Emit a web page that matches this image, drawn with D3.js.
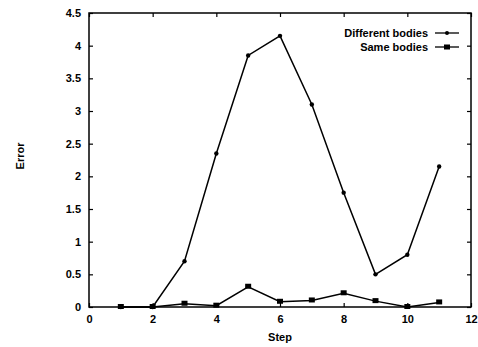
<!DOCTYPE html>
<html>
<head>
<meta charset="utf-8">
<script src="https://cdn.jsdelivr.net/npm/d3@7"></script>
<style>
  body { margin: 0; background: #fff; }
  text { font-family: "Liberation Sans", Arial, sans-serif; font-weight: bold; fill: #000; }
</style>
</head>
<body>
<div id="chart"></div>
<script>
const steps = [1, 2, 3, 4, 5, 6, 7, 8, 9, 10, 11];
const differentBodies = [0, 0, 0.7, 2.35, 3.85, 4.15, 3.1, 1.75, 0.5, 0.8, 2.15];
const sameBodies = [0, 0, 0.05, 0.02, 0.31, 0.08, 0.1, 0.21, 0.09, 0, 0.07];
const xTicks = [0, 2, 4, 6, 8, 10, 12];
const yTicks = [0, 0.5, 1, 1.5, 2, 2.5, 3, 3.5, 4, 4.5];

const width = 478, height = 347;
const margin = { top: 13, right: 7, bottom: 40, left: 89 };
const w = width - margin.left - margin.right;
const h = height - margin.top - margin.bottom;

const svg = d3.select('#chart').append('svg')
  .attr('width', width)
  .attr('height', height);

const g = svg.append('g')
  .attr('transform', `translate(${margin.left},${margin.top})`);

const x = d3.scaleLinear().domain([0, 12]).range([0, w]);
const y = d3.scaleLinear().domain([0, 4.5]).range([h, 0]);

// frame
g.append('rect')
  .attr('width', w).attr('height', h)
  .attr('fill', 'none').attr('stroke', '#000').attr('stroke-width', 1.5);

// axes with inward ticks
const styleAxis = sel => {
  sel.select('.domain').remove();
  sel.selectAll('.tick line').attr('stroke', '#000').attr('stroke-width', 1.2);
  sel.selectAll('.tick text').style('font-size', '11px');
};

g.append('g').attr('transform', `translate(0,${h})`)
  .call(d3.axisBottom(x).tickValues(xTicks).tickSize(-4).tickPadding(8).tickFormat(d3.format('d')))
  .call(styleAxis);
g.append('g')
  .call(d3.axisTop(x).tickValues(xTicks).tickSize(-4).tickFormat(''))
  .call(styleAxis);
g.append('g')
  .call(d3.axisLeft(y).tickValues(yTicks).tickSize(-4).tickPadding(8).tickFormat(d => d))
  .call(styleAxis);
g.append('g').attr('transform', `translate(${w},0)`)
  .call(d3.axisRight(y).tickValues(yTicks).tickSize(-4).tickFormat(''))
  .call(styleAxis);

// axis labels
svg.append('text')
  .attr('x', margin.left + x(6)).attr('y', 341)
  .attr('text-anchor', 'middle').style('font-size', '11px')
  .text('Step');
svg.append('text')
  .attr('transform', `translate(24,${margin.top + y(2.25) - 4}) rotate(-90)`)
  .attr('text-anchor', 'middle').style('font-size', '11px')
  .text('Error');

const line = d3.line().x(d => x(d[0])).y(d => y(d[1]));
const diffData = steps.map((s, i) => [s, differentBodies[i]]);
const sameData = steps.map((s, i) => [s, sameBodies[i]]);

g.append('path').datum(diffData)
  .attr('d', line).attr('fill', 'none').attr('stroke', '#000').attr('stroke-width', 1.5);
g.selectAll('.dpt').data(diffData).enter().append('circle')
  .attr('cx', d => x(d[0])).attr('cy', d => y(d[1])).attr('r', 2.2).attr('fill', '#000');

g.append('path').datum(sameData)
  .attr('d', line).attr('fill', 'none').attr('stroke', '#000').attr('stroke-width', 1.5);
g.selectAll('.spt').data(sameData).enter().append('rect')
  .attr('x', d => x(d[0]) - 3).attr('y', d => y(d[1]) - 3)
  .attr('width', 6).attr('height', 5).attr('fill', '#000');

// legend
const legend = [
  { name: 'Different bodies', marker: 'circle' },
  { name: 'Same bodies', marker: 'rect' }
];
const lg = svg.append('g');
legend.forEach((item, i) => {
  const ly = 33 + i * 14;
  lg.append('text').attr('x', 428).attr('y', ly + 4)
    .attr('text-anchor', 'end').style('font-size', '11px').text(item.name);
  lg.append('line').attr('x1', 435).attr('x2', 459).attr('y1', ly).attr('y2', ly)
    .attr('stroke', '#000').attr('stroke-width', 1.3);
  if (item.marker === 'circle') {
    lg.append('circle').attr('cx', 447).attr('cy', ly).attr('r', 2).attr('fill', '#000');
  } else {
    lg.append('rect').attr('x', 444).attr('y', ly - 2.5).attr('width', 6).attr('height', 5).attr('fill', '#000');
  }
});
</script>
</body>
</html>
